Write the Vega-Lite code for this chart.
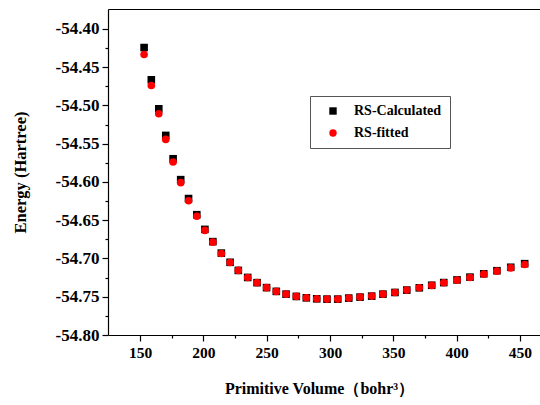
{
  "$schema": "https://vega.github.io/schema/vega-lite/v6.json",
  "autosize": {"type": "none"},
  "width": 432,
  "height": 326,
  "padding": {"left": 108, "top": 9, "right": 0, "bottom": 70},
  "background": "white",
  "config": {
    "view": {"stroke": null},
    "font": "Liberation Serif",
    "axis": {"domainColor": "#000", "tickColor": "#000", "labelColor": "#000", "titleColor": "#000", "grid": false, "labelFont": "Liberation Serif", "titleFont": "Liberation Serif", "labelFontWeight": "bold", "titleFontWeight": "bold", "domainWidth": 1.2, "tickWidth": 1.2}
  },
  "data": {"values": [
    {"v":153.2,"e":-54.4244,"s":"RS-Calculated"},
    {"v":158.9,"e":-54.4665,"s":"RS-Calculated"},
    {"v":164.8,"e":-54.5044,"s":"RS-Calculated"},
    {"v":170.3,"e":-54.5392,"s":"RS-Calculated"},
    {"v":176.1,"e":-54.5697,"s":"RS-Calculated"},
    {"v":182.1,"e":-54.5970,"s":"RS-Calculated"},
    {"v":188.3,"e":-54.6217,"s":"RS-Calculated"},
    {"v":194.8,"e":-54.6428,"s":"RS-Calculated"},
    {"v":201.2,"e":-54.6620,"s":"RS-Calculated"},
    {"v":207.5,"e":-54.6780,"s":"RS-Calculated"},
    {"v":214.2,"e":-54.6930,"s":"RS-Calculated"},
    {"v":221.1,"e":-54.7050,"s":"RS-Calculated"},
    {"v":227.6,"e":-54.7156,"s":"RS-Calculated"},
    {"v":235.0,"e":-54.7248,"s":"RS-Calculated"},
    {"v":242.4,"e":-54.7316,"s":"RS-Calculated"},
    {"v":249.9,"e":-54.7381,"s":"RS-Calculated"},
    {"v":257.6,"e":-54.7430,"s":"RS-Calculated"},
    {"v":265.3,"e":-54.7466,"s":"RS-Calculated"},
    {"v":273.4,"e":-54.7496,"s":"RS-Calculated"},
    {"v":281.3,"e":-54.7514,"s":"RS-Calculated"},
    {"v":289.5,"e":-54.7527,"s":"RS-Calculated"},
    {"v":297.6,"e":-54.7531,"s":"RS-Calculated"},
    {"v":306.1,"e":-54.7531,"s":"RS-Calculated"},
    {"v":314.8,"e":-54.7518,"s":"RS-Calculated"},
    {"v":323.7,"e":-54.7505,"s":"RS-Calculated"},
    {"v":332.9,"e":-54.7492,"s":"RS-Calculated"},
    {"v":341.8,"e":-54.7466,"s":"RS-Calculated"},
    {"v":351.3,"e":-54.7444,"s":"RS-Calculated"},
    {"v":360.6,"e":-54.7413,"s":"RS-Calculated"},
    {"v":370.5,"e":-54.7383,"s":"RS-Calculated"},
    {"v":380.3,"e":-54.7350,"s":"RS-Calculated"},
    {"v":389.8,"e":-54.7315,"s":"RS-Calculated"},
    {"v":400.3,"e":-54.7280,"s":"RS-Calculated"},
    {"v":410.5,"e":-54.7244,"s":"RS-Calculated"},
    {"v":421.4,"e":-54.7200,"s":"RS-Calculated"},
    {"v":431.8,"e":-54.7160,"s":"RS-Calculated"},
    {"v":442.7,"e":-54.7115,"s":"RS-Calculated"},
    {"v":453.7,"e":-54.7068,"s":"RS-Calculated"},
    {"v":153.2,"e":-54.4335,"s":"RS-fitted"},
    {"v":158.9,"e":-54.4740,"s":"RS-fitted"},
    {"v":164.8,"e":-54.5109,"s":"RS-fitted"},
    {"v":170.3,"e":-54.5444,"s":"RS-fitted"},
    {"v":176.1,"e":-54.5740,"s":"RS-fitted"},
    {"v":182.1,"e":-54.6009,"s":"RS-fitted"},
    {"v":188.3,"e":-54.6246,"s":"RS-fitted"},
    {"v":194.8,"e":-54.6448,"s":"RS-fitted"},
    {"v":201.2,"e":-54.6633,"s":"RS-fitted"},
    {"v":207.5,"e":-54.6787,"s":"RS-fitted"},
    {"v":214.2,"e":-54.6935,"s":"RS-fitted"},
    {"v":221.1,"e":-54.7052,"s":"RS-fitted"},
    {"v":227.6,"e":-54.7156,"s":"RS-fitted"},
    {"v":235.0,"e":-54.7248,"s":"RS-fitted"},
    {"v":242.4,"e":-54.7316,"s":"RS-fitted"},
    {"v":249.9,"e":-54.7381,"s":"RS-fitted"},
    {"v":257.6,"e":-54.7430,"s":"RS-fitted"},
    {"v":265.3,"e":-54.7466,"s":"RS-fitted"},
    {"v":273.4,"e":-54.7496,"s":"RS-fitted"},
    {"v":281.3,"e":-54.7514,"s":"RS-fitted"},
    {"v":289.5,"e":-54.7527,"s":"RS-fitted"},
    {"v":297.6,"e":-54.7531,"s":"RS-fitted"},
    {"v":306.1,"e":-54.7531,"s":"RS-fitted"},
    {"v":314.8,"e":-54.7518,"s":"RS-fitted"},
    {"v":323.7,"e":-54.7505,"s":"RS-fitted"},
    {"v":332.9,"e":-54.7492,"s":"RS-fitted"},
    {"v":341.8,"e":-54.7466,"s":"RS-fitted"},
    {"v":351.3,"e":-54.7444,"s":"RS-fitted"},
    {"v":360.6,"e":-54.7413,"s":"RS-fitted"},
    {"v":370.5,"e":-54.7383,"s":"RS-fitted"},
    {"v":380.3,"e":-54.7352,"s":"RS-fitted"},
    {"v":389.8,"e":-54.7318,"s":"RS-fitted"},
    {"v":400.3,"e":-54.7283,"s":"RS-fitted"},
    {"v":410.5,"e":-54.7248,"s":"RS-fitted"},
    {"v":421.4,"e":-54.7205,"s":"RS-fitted"},
    {"v":431.8,"e":-54.7166,"s":"RS-fitted"},
    {"v":442.7,"e":-54.7123,"s":"RS-fitted"},
    {"v":453.7,"e":-54.7078,"s":"RS-fitted"}
  ]},
  "layer": [
    {
      "mark": {"type": "point", "filled": true, "opacity": 1, "size": 58},
      "encoding": {
        "x": {"field": "v", "type": "quantitative",
          "scale": {"domain": [124.7, 465.8], "nice": false, "zero": false},
          "axis": {"orient": "bottom", "values": [150,175,200,225,250,275,300,325,350,375,400,425,450],
            "labelExpr": "datum.value % 50 === 0 ? datum.label : ''",
            "tickSize": {"condition": {"test": "datum.value % 50 === 0", "value": 6}, "value": 3},
            "labelFontSize": 15.5, "labelPadding": 4, "labelFlush": false,
            "title": "Primitive Volume（bohr³）", "titleFontSize": 16, "titleX": 211, "titleY": 53, "titleBaseline": "middle", "titleAnchor": "middle"}},
        "y": {"field": "e", "type": "quantitative",
          "scale": {"domain": [-54.80, -54.374], "nice": false, "zero": false},
          "axis": {"values": [-54.8,-54.775,-54.75,-54.725,-54.7,-54.675,-54.65,-54.625,-54.6,-54.575,-54.55,-54.525,-54.5,-54.475,-54.45,-54.425,-54.4],
            "labelExpr": "round(datum.value*1000) % 50 === 0 ? '-' + format(abs(datum.value), '.2f') : ''",
            "tickSize": {"condition": {"test": "round(datum.value*1000) % 50 === 0", "value": 6}, "value": 3},
            "labelFontSize": 17, "labelPadding": 3, "labelFlush": false,
            "title": "Energy (Hartree)", "titleFontSize": 16.5, "titleX": -88, "titleY": 163, "titleBaseline": "middle", "titleAngle": -90, "titleAnchor": "middle"}},
        "color": {"field": "s", "type": "nominal",
          "scale": {"domain": ["RS-Calculated", "RS-fitted"], "range": ["#000000", "#ff0000"]},
          "legend": {"title": null, "orient": "none", "legendX": 202, "legendY": 87,
            "strokeColor": "#555", "fillColor": "white", "padding": 8,
            "symbolOffset": 8, "symbolSize": 55, "labelOffset": 14,
            "labelFont": "Liberation Serif", "labelFontWeight": "bold", "labelFontSize": 14, "labelColor": "#000",
            "rowPadding": 8}},
        "shape": {"field": "s", "type": "nominal",
          "scale": {"domain": ["RS-Calculated", "RS-fitted"], "range": ["square", "circle"]},
          "legend": {"title": null, "orient": "none", "legendX": 202, "legendY": 87,
            "strokeColor": "#555", "fillColor": "white", "padding": 8,
            "symbolOffset": 8, "symbolSize": 55, "labelOffset": 14,
            "labelFont": "Liberation Serif", "labelFontWeight": "bold", "labelFontSize": 14, "labelColor": "#000",
            "rowPadding": 8}}
      }
    },
    {
      "mark": {"type": "point", "opacity": 0},
      "encoding": {
        "x": {"field": "v", "type": "quantitative",
          "axis": {"orient": "top", "labels": false, "ticks": false, "title": null, "domain": true}}
      }
    }
  ],
  "resolve": {"axis": {"x": "independent"}}
}
